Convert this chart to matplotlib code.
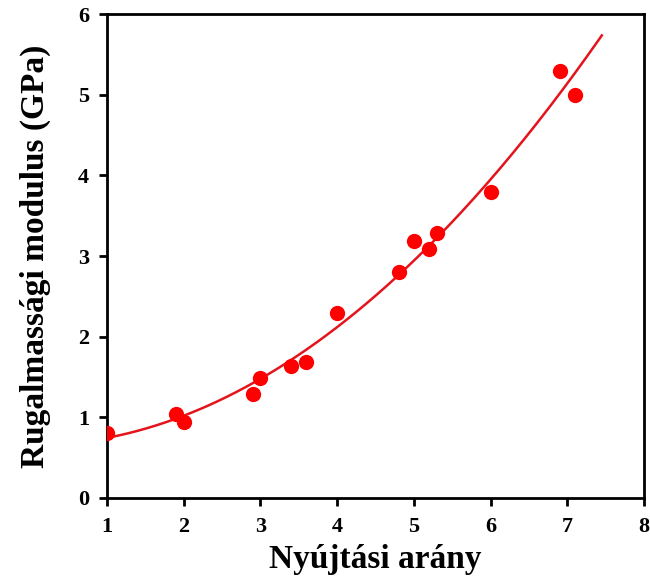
import numpy as np
import matplotlib
matplotlib.use("Agg")
import matplotlib.pyplot as plt

stretch_ratio = [1.0, 1.9, 2.0, 2.9, 3.0, 3.4, 3.6, 4.0, 4.8, 5.0, 5.2, 5.3, 6.0, 6.9, 7.1]
modulus_gpa = [0.80, 1.04, 0.94, 1.29, 1.49, 1.64, 1.68, 2.29, 2.80, 3.19, 3.09, 3.29, 3.79, 5.29, 4.99]
x_ticks = [1, 2, 3, 4, 5, 6, 7, 8]
y_ticks = [0, 1, 2, 3, 4, 5, 6]
fit_range = [1.0, 7.45]

plt.rcParams['font.family'] = ['Liberation Serif', 'DejaVu Serif']
plt.rcParams['font.weight'] = 'bold'

fig = plt.figure(figsize=(6.5, 5.79), dpi=100)
ax = fig.add_axes([0.1646, 0.1399, 0.8262, 0.8359])

# least-squares fit of y = a + b*x^2
xs = np.asarray(stretch_ratio)
ys = np.asarray(modulus_gpa)
A = np.column_stack([np.ones_like(xs), xs ** 2])
(a, b), *_ = np.linalg.lstsq(A, ys, rcond=None)
xf = np.linspace(fit_range[0], fit_range[1], 200)
ax.plot(xf, a + b * xf ** 2, color='#e3141c', lw=1.8, zorder=2)
ax.plot(stretch_ratio, modulus_gpa, 'o', color='#ff0000', markersize=11,
        markeredgewidth=0, zorder=3)

ax.set_xlim(1, 8)
ax.set_ylim(0, 6)
ax.set_xticks(x_ticks)
ax.set_yticks(y_ticks)
ax.tick_params(direction='out', length=6, width=2, labelsize=16)
ax.tick_params(axis='y', pad=7)
ax.tick_params(axis='x', pad=8)
for lab in ax.get_xticklabels() + ax.get_yticklabels():
    lab.set_fontweight('bold')
for s in ax.spines.values():
    s.set_linewidth(2)
ax.set_xlabel('Nyújtási arány', fontsize=24, fontweight='bold', labelpad=5)
ax.set_ylabel('Rugalmassági modulus (GPa)', fontsize=24, fontweight='bold', labelpad=19)

fig.savefig('out.png', dpi=100)
